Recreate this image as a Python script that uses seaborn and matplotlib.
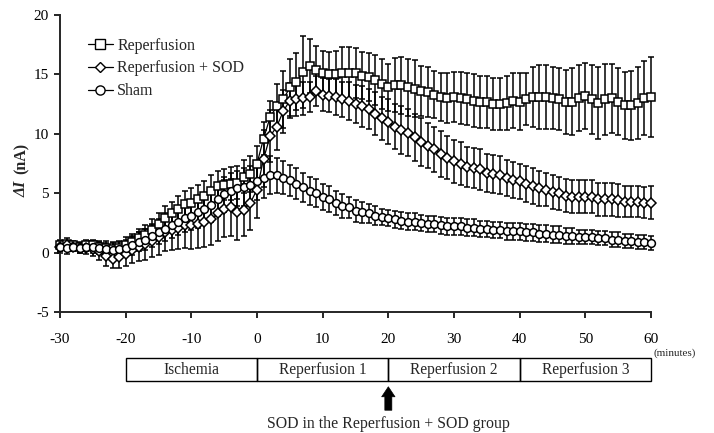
import numpy as np
import pandas as pd
import matplotlib
matplotlib.use("Agg")
import matplotlib.pyplot as plt
import matplotlib.transforms as mtransforms
from matplotlib.lines import Line2D
import seaborn as sns

# ---------------- data ----------------
minutes = list(range(-30, 61))

reperfusion = [0.6, 0.7, 0.6, 0.5, 0.6, 0.6, 0.5, 0.4, 0.3, 0.4,
               0.6, 0.9, 1.2, 1.5, 1.9, 2.4, 2.9, 3.3, 3.7, 4.1,
               4.2, 4.5, 4.8, 5.2, 5.6, 5.7, 5.8, 5.9, 6.4, 6.6,
               7.5, 9.6, 11.4, 12.3, 12.9, 13.9, 14.4, 15.2, 15.7, 15.4,
               15.1, 15.0, 15.0, 15.1, 15.1, 15.1, 14.9, 14.8, 14.5, 14.2,
               13.9, 14.1, 14.1, 13.9, 13.8, 13.6, 13.5, 13.3, 13.1, 13.0,
               13.1, 13.0, 12.9, 12.8, 12.7, 12.7, 12.5, 12.5, 12.6, 12.8,
               12.7, 12.9, 13.1, 13.1, 13.1, 13.0, 12.9, 12.7, 12.7, 13.0,
               13.2, 12.9, 12.6, 12.9, 13.0, 12.7, 12.4, 12.4, 12.6, 13.0,
               13.1]
reperfusion_err = [0.5, 0.5, 0.4, 0.4, 0.5, 0.5, 0.5, 0.6, 0.6, 0.6,
                   0.7, 0.7, 0.8, 0.8, 0.9, 0.9, 1.0, 1.0, 1.1, 1.1,
                   1.2, 1.2, 1.2, 1.3, 1.3, 1.3, 1.4, 1.4, 1.4, 1.5,
                   1.5, 1.4, 1.4, 1.9, 2.4, 2.4, 2.4, 3.0, 2.3, 2.0,
                   1.9, 1.9, 2.0, 2.2, 2.2, 2.1, 2.0, 2.0, 2.1, 2.1,
                   2.0, 2.3, 2.4, 2.4, 2.4, 2.1, 2.1, 2.0, 2.0, 2.1,
                   2.1, 2.2, 2.2, 2.2, 2.2, 2.2, 2.2, 2.2, 2.3, 2.3,
                   2.4, 2.2, 2.5, 2.7, 2.7, 2.6, 2.6, 2.7, 2.8, 2.8,
                   2.8, 2.9, 3.0, 3.0, 2.9, 2.8, 2.8, 2.9, 3.0, 3.1,
                   3.4]

reperfusion_sod = [0.5, 0.6, 0.5, 0.4, 0.4, 0.3, 0.1, -0.3, -0.5, -0.4,
                   -0.1, 0.2, 0.5, 0.7, 1.0, 1.3, 1.7, 1.9, 2.1, 2.3,
                   2.3, 2.4, 2.6, 2.8, 3.3, 3.7, 3.8, 3.4, 3.6, 4.2,
                   5.3, 7.9, 9.8, 10.6, 11.9, 12.8, 12.9, 13.0, 13.1, 13.6,
                   13.3, 13.2, 13.1, 12.9, 12.8, 12.5, 12.3, 12.1, 11.7, 11.3,
                   11.0, 10.6, 10.3, 10.1, 9.7, 9.3, 9.0, 8.7, 8.3, 8.0,
                   7.7, 7.5, 7.2, 7.1, 7.0, 6.7, 6.6, 6.5, 6.3, 6.1,
                   6.0, 5.8, 5.6, 5.4, 5.3, 5.1, 5.0, 4.8, 4.7, 4.7,
                   4.7, 4.7, 4.5, 4.5, 4.5, 4.4, 4.3, 4.3, 4.3, 4.2,
                   4.2]
reperfusion_sod_err = [0.4, 0.4, 0.4, 0.4, 0.5, 0.6, 0.7, 0.8, 0.8, 0.9,
                       1.0, 1.1, 1.2, 1.3, 1.4, 1.5, 1.6, 1.7, 1.8, 1.9,
                       2.0, 2.0, 2.1, 2.2, 2.3, 2.4, 2.4, 2.3, 2.2, 2.3,
                       2.4, 2.4, 2.2, 2.0, 1.8, 1.5, 1.4, 1.4, 1.3, 1.3,
                       1.4, 1.4, 1.5, 1.5, 1.6, 1.6, 1.7, 1.7, 1.8, 1.8,
                       1.9, 1.9, 2.0, 2.0, 2.0, 2.0, 1.9, 1.9, 1.9, 1.8,
                       1.8, 1.8, 1.7, 1.7, 1.7, 1.6, 1.6, 1.6, 1.5, 1.5,
                       1.5, 1.5, 1.5, 1.5, 1.4, 1.4, 1.4, 1.4, 1.4, 1.4,
                       1.4, 1.4, 1.4, 1.4, 1.4, 1.4, 1.3, 1.3, 1.3, 1.3,
                       1.4]

sham = [0.5, 0.4, 0.5, 0.4, 0.5, 0.5, 0.4, 0.3, 0.2, 0.3,
        0.4, 0.6, 0.9, 1.1, 1.4, 1.7, 2.0, 2.3, 2.6, 2.9,
        3.1, 3.4, 3.7, 4.0, 4.5, 4.9, 5.2, 5.4, 5.5, 5.7,
        6.0, 6.3, 6.5, 6.5, 6.3, 6.1, 5.8, 5.5, 5.2, 5.0,
        4.7, 4.5, 4.2, 3.9, 3.8, 3.5, 3.4, 3.3, 3.1, 3.0,
        2.9, 2.8, 2.7, 2.6, 2.6, 2.5, 2.4, 2.4, 2.3, 2.2,
        2.2, 2.2, 2.1, 2.1, 2.0, 2.0, 1.9, 1.9, 1.8, 1.8,
        1.8, 1.7, 1.7, 1.6, 1.6, 1.5, 1.5, 1.4, 1.4, 1.3,
        1.3, 1.3, 1.2, 1.2, 1.1, 1.1, 1.0, 1.0, 0.9, 0.9,
        0.8]
sham_err = [0.5, 0.5, 0.4, 0.4, 0.4, 0.5, 0.5, 0.5, 0.6, 0.6,
            0.7, 0.8, 0.8, 0.9, 0.9, 1.0, 1.0, 1.1, 1.1, 1.2,
            1.2, 1.3, 1.3, 1.4, 1.4, 1.5, 1.5, 1.5, 1.6, 1.6,
            1.6, 1.7, 1.6, 1.5, 1.4, 1.3, 1.3, 1.2, 1.2, 1.2,
            1.1, 1.1, 1.0, 1.0, 0.9, 0.9, 0.9, 0.8, 0.8, 0.7,
            0.7, 0.7, 0.7, 0.7, 0.7, 0.7, 0.7, 0.7, 0.7, 0.7,
            0.7, 0.7, 0.7, 0.7, 0.7, 0.7, 0.7, 0.7, 0.7, 0.7,
            0.7, 0.7, 0.7, 0.7, 0.7, 0.7, 0.7, 0.7, 0.7, 0.6,
            0.6, 0.6, 0.6, 0.6, 0.6, 0.6, 0.6, 0.6, 0.6, 0.6,
            0.6]

series_names = ["Reperfusion", "Reperfusion + SOD", "Sham"]
series_markers = ["s", "D", "o"]
x_ticks = [-30, -20, -10, 0, 10, 20, 30, 40, 50, 60]
y_ticks = [-5, 0, 5, 10, 15, 20]
phase_labels = ["Ischemia", "Reperfusion 1", "Reperfusion 2", "Reperfusion 3"]
phase_edges = [-20, 0, 20, 40, 60]
sod_time = 20

# ---------------- style ----------------
sns.set_style("ticks")
plt.rcParams["font.family"] = ["Liberation Serif", "DejaVu Serif"]
plt.rcParams["axes.unicode_minus"] = False

W, H = 714, 433
fig = plt.figure(figsize=(W / 100, H / 100), dpi=100)
ax = fig.add_axes([60 / W, 1 - 312 / H, (651 - 60) / W, (312 - 15) / H])

frames = []
for name, vals, errs in [("Reperfusion", reperfusion, reperfusion_err),
                         ("Reperfusion + SOD", reperfusion_sod, reperfusion_sod_err),
                         ("Sham", sham, sham_err)]:
    frames.append(pd.DataFrame({"minute": minutes, "value": vals,
                                "err": errs, "group": name}))
df = pd.concat(frames, ignore_index=True)

msizes = {"s": 5.6, "D": 4.6, "o": 5.6}
for name, mk in zip(series_names, series_markers):
    sub = df[df["group"] == name]
    ax.errorbar(sub["minute"], sub["value"], yerr=sub["err"], fmt="none",
                ecolor="black", elinewidth=1.1, capsize=2.4, capthick=1.1,
                zorder=2, clip_on=False)
for name, mk in zip(series_names, series_markers):
    sub = df[df["group"] == name]
    sns.lineplot(data=sub, x="minute", y="value", ax=ax, color="black",
                 marker=mk, markersize=msizes[mk], markerfacecolor="white",
                 markeredgecolor="black", markeredgewidth=1.1,
                 linewidth=0.9, legend=False, errorbar=None, zorder=3,
                 clip_on=False)
for ln in ax.lines:
    ln.set_markerfacecolor("white")
    ln.set_markeredgecolor("black")

ax.set_xlim(-30, 60)
ax.set_ylim(-5, 20)
ax.set_xticks(x_ticks)
ax.set_yticks(y_ticks)
ax.set_xticklabels([str(v) for v in x_ticks])
ax.set_yticklabels([str(v) for v in y_ticks])
ax.set_xlabel("")
ax.set_ylabel("")
for s in ["top", "right"]:
    ax.spines[s].set_visible(False)
for s in ["left", "bottom"]:
    ax.spines[s].set_linewidth(1.4)
ax.tick_params(axis="both", direction="out", length=4, width=1.2,
               labelsize=11, colors="black")
ax.tick_params(axis="x", pad=11)
ax.tick_params(axis="y", pad=4)

# legend
handles = [Line2D([0], [0], color="black", lw=0.9, marker=m,
                  markersize=msizes[m] + 1, markerfacecolor="white",
                  markeredgecolor="black", markeredgewidth=1.0)
           for m in series_markers]
ax.legend(handles, series_names, loc="upper left",
          bbox_to_anchor=(0.036, 0.945), frameon=False, fontsize=11.5,
          handlelength=1.6, handletextpad=0.25, labelspacing=0.42,
          borderaxespad=0.0)

# y label
fig.text(22 / W, 1 - 189 / H, "ΔI", rotation=90, ha="center", va="center",
         fontsize=11.5, fontweight="bold", fontstyle="italic")
fig.text(22 / W, 1 - 158 / H, "(nA)", rotation=90, ha="center", va="center",
         fontsize=11.5, fontweight="bold")

# minutes unit
fig.text(654 / W, 1 - 353 / H, "(minutes)", ha="left", va="center", fontsize=8)

# phase boxes
trans = mtransforms.blended_transform_factory(ax.transData, fig.transFigure)
box_top = 1 - 358 / H
box_bot = 1 - 381 / H
for i, lab in enumerate(phase_labels):
    x0, x1 = phase_edges[i], phase_edges[i + 1]
    rect = plt.Rectangle((x0, box_bot), x1 - x0, box_top - box_bot,
                         transform=trans, fill=False, edgecolor="black",
                         linewidth=1.0, clip_on=False)
    fig.add_artist(rect)
    fig.text((x0 + x1) / 2, (box_top + box_bot) / 2, lab, transform=trans,
             ha="center", va="center", fontsize=11.2)

# arrow + annotation
ax.annotate("", xy=(sod_time, 1 - 384 / H), xytext=(sod_time, 1 - 413 / H),
            xycoords=trans, textcoords=trans,
            arrowprops=dict(arrowstyle="simple,head_length=0.6,head_width=0.8,tail_width=0.42",
                            mutation_scale=12, fc="black", ec="black", lw=0.5),
            annotation_clip=False)
fig.text(sod_time, 1 - 424 / H, "SOD in the Reperfusion + SOD group",
         transform=trans, ha="center", va="center", fontsize=11.4)

fig.savefig("out.png", dpi=100, facecolor="white")
